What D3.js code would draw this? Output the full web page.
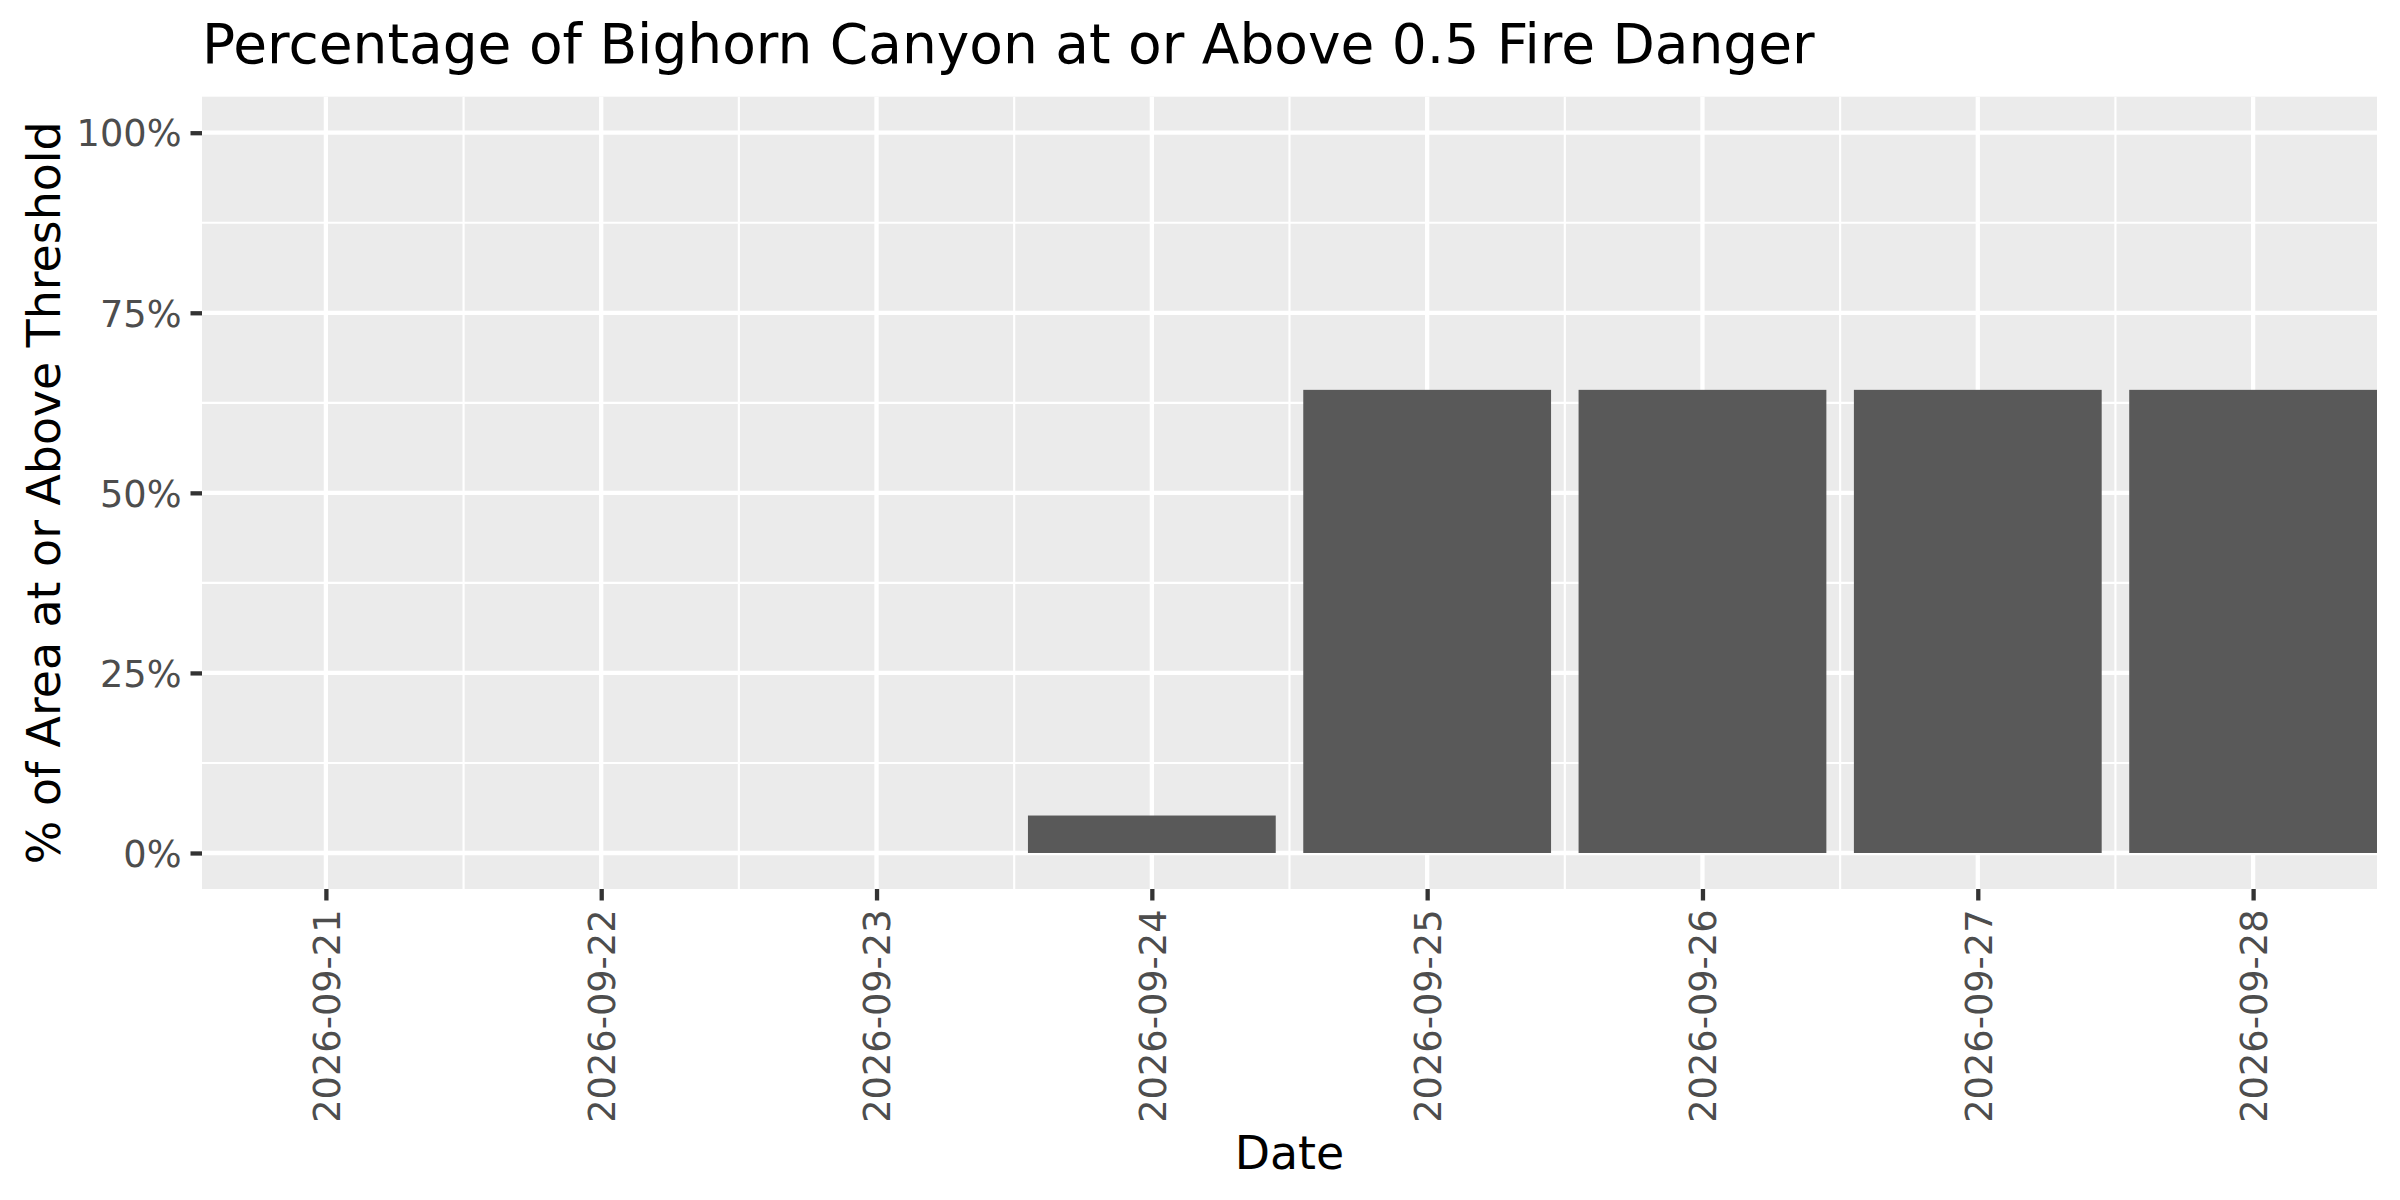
<!doctype html>
<html lang="en">
  <head>
    <meta charset="UTF-8" />
    <title>Bighorn Canyon Fire Danger</title>
    <script src="https://cdn.jsdelivr.net/npm/d3@7"></script>
    <style>
      body { margin: 0; background: #ffffff; }
      text { font-family: "DejaVu Sans", sans-serif; }
    </style>
  </head>
  <body>
    <div id="chart"></div>
    <script>
    // data
    var dates = ["2026-09-21", "2026-09-22", "2026-09-23", "2026-09-24",
                 "2026-09-25", "2026-09-26", "2026-09-27", "2026-09-28"];
    var pctAbove = [0, 0, 0, 0.052, 0.643, 0.643, 0.643, 0.643];
    var yTicks = [0, 0.25, 0.5, 0.75, 1];
    var yMinor = [0.125, 0.375, 0.625, 0.875];

    var titleText = "Percentage of Bighorn Canyon at or Above 0.5 Fire Danger";
    var xTitle = "Date";
    var yTitle = "% of Area at or Above Threshold";

    var width = 2400,
        height = 1200;
    var panel = { left: 202, right: 2377, top: 96.7, bottom: 889 };
    var DAY = 864e5;

    var parse = d3.utcParse("%Y-%m-%d");
    var fmt = d3.utcFormat("%Y-%m-%d");
    var dateObjs = dates.map(parse);
    var data = dateObjs.map(function(d, i) { return { date: d, value: pctAbove[i] }; });

    var svg = d3.select("#chart").append("svg")
                .attr("width", width)
                .attr("height", height);

    // x: continuous date scale, bars 0.9 day wide, no extra expansion
    var x = d3.scaleUtc()
        .domain([new Date(+dateObjs[0] - 0.45 * DAY), new Date(+dateObjs[dateObjs.length - 1] + 0.45 * DAY)])
        .range([panel.left, panel.right]);

    // y: 0..1 with 5% expansion either side
    var y = d3.scaleLinear()
        .domain([-0.05, 1.05])
        .range([panel.bottom, panel.top]);

    var majorW = 4.3, minorW = 2.15, tickLen = 11.5, tickPad = 9;

    // panel background
    svg.append("rect")
        .attr("x", panel.left)
        .attr("y", panel.top)
        .attr("width", panel.right - panel.left)
        .attr("height", panel.bottom - panel.top)
        .attr("fill", "#EBEBEB");

    var grid = svg.append("g");

    // minor grid
    var xMinor = dateObjs.slice(0, -1).map(function(d) { return new Date(+d + 0.5 * DAY); });
    grid.selectAll(".xminor").data(xMinor).enter().append("line")
        .attr("x1", d => x(d)).attr("x2", d => x(d))
        .attr("y1", panel.top).attr("y2", panel.bottom)
        .attr("stroke", "#ffffff").attr("stroke-width", minorW);
    grid.selectAll(".yminor").data(yMinor).enter().append("line")
        .attr("x1", panel.left).attr("x2", panel.right)
        .attr("y1", d => y(d)).attr("y2", d => y(d))
        .attr("stroke", "#ffffff").attr("stroke-width", minorW);

    // major grid
    grid.selectAll(".xmajor").data(dateObjs).enter().append("line")
        .attr("x1", d => x(d)).attr("x2", d => x(d))
        .attr("y1", panel.top).attr("y2", panel.bottom)
        .attr("stroke", "#ffffff").attr("stroke-width", majorW);
    grid.selectAll(".ymajor").data(yTicks).enter().append("line")
        .attr("x1", panel.left).attr("x2", panel.right)
        .attr("y1", d => y(d)).attr("y2", d => y(d))
        .attr("stroke", "#ffffff").attr("stroke-width", majorW);

    // bars
    svg.append("g").selectAll("rect").data(data).enter().append("rect")
        .attr("x", d => x(new Date(+d.date - 0.45 * DAY)))
        .attr("width", d => x(new Date(+d.date + 0.45 * DAY)) - x(new Date(+d.date - 0.45 * DAY)))
        .attr("y", d => y(d.value))
        .attr("height", d => y(0) - y(d.value))
        .attr("fill", "#595959");

    // y axis
    var yAxis = svg.append("g")
        .attr("transform", "translate(" + panel.left + ",0)")
        .call(d3.axisLeft(y).tickValues(yTicks).tickFormat(d3.format(".0%"))
              .tickSize(tickLen).tickPadding(tickPad));
    yAxis.select(".domain").remove();
    yAxis.selectAll("line").attr("stroke", "#333333").attr("stroke-width", majorW);
    yAxis.selectAll("text")
        .attr("fill", "#4D4D4D")
        .attr("font-size", 36.7)
        .attr("font-family", "DejaVu Sans, sans-serif")
        .attr("dy", "0.36em");

    // x axis, labels turned 90 degrees
    var xAxis = svg.append("g")
        .attr("transform", "translate(0," + panel.bottom + ")")
        .call(d3.axisBottom(x).tickValues(dateObjs).tickFormat(fmt)
              .tickSize(tickLen).tickPadding(tickPad));
    xAxis.select(".domain").remove();
    xAxis.selectAll("line").attr("stroke", "#333333").attr("stroke-width", majorW);
    xAxis.selectAll("text")
        .attr("fill", "#4D4D4D")
        .attr("font-size", 36.7)
        .attr("font-family", "DejaVu Sans, sans-serif")
        .attr("transform", "rotate(-90)")
        .attr("text-anchor", "end")
        .attr("x", -(tickLen + tickPad))
        .attr("y", 0)
        .attr("dy", "0.36em");

    // titles
    svg.append("text")
        .attr("x", panel.left)
        .attr("y", 63)
        .attr("font-size", 55)
        .attr("fill", "#000000")
        .text(titleText);

    svg.append("text")
        .attr("x", (panel.left + panel.right) / 2)
        .attr("y", 1169)
        .attr("text-anchor", "middle")
        .attr("font-size", 45.8)
        .attr("fill", "#000000")
        .text(xTitle);

    svg.append("text")
        .attr("transform", "translate(60," + ((panel.top + panel.bottom) / 2) + ") rotate(-90)")
        .attr("text-anchor", "middle")
        .attr("font-size", 45.8)
        .attr("fill", "#000000")
        .text(yTitle);
    </script>
  </body>
</html>
